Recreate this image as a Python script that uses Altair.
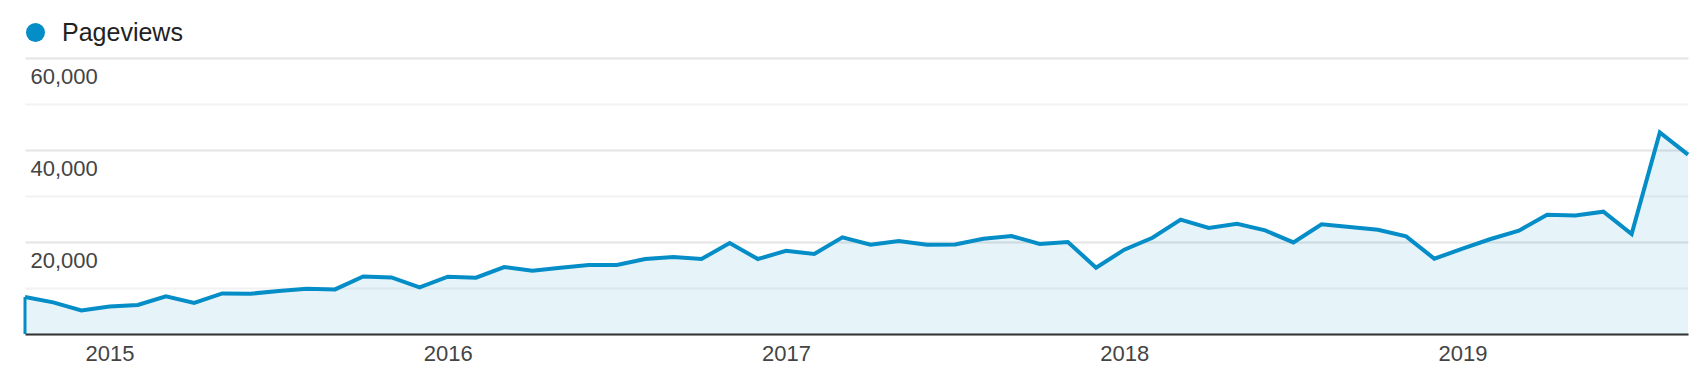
import altair as alt
import pandas as pd

months = list(pd.date_range("2014-10-01", periods=60, freq="MS").strftime("%Y-%m"))
pageviews = [
    8040, 6870, 5130, 6000, 6300, 8170, 6740, 8830, 8760, 9350, 9850, 9700,
    12520, 12300, 10150, 12450, 12240, 14560, 13760, 14410, 15000, 15000, 16300, 16740,
    16300, 19780, 16300, 18100, 17390, 21000, 19410, 20200, 19410, 19480, 20720, 21300,
    19560, 20000, 14410, 18330, 20930, 24850, 23040, 23980, 22520, 19910, 23830, 23260,
    22670, 21220, 16370, 18540, 20650, 22460, 25930, 25780, 26590, 21740, 43830, 38980,
]
series_name = "Pageviews"
year_ticks = ["2015-01", "2016-01", "2017-01", "2018-01", "2019-01"]
y_ticks = [0, 10000, 20000, 30000, 40000, 50000, 60000]

df = pd.DataFrame({"month": months, "pageviews": pageviews, "series": series_name})

BLUE = "#058dc7"
FONT = "Liberation Sans"

x_enc = alt.X(
    "month:O",
    sort=None,
    scale=alt.Scale(type="point", padding=0),
    axis=alt.Axis(
        title=None,
        values=year_ticks,
        labelExpr="substring(datum.value, 0, 4)",
        labelAngle=0,
        ticks=False,
        grid=False,
        domain=True,
        domainColor="#333333",
        domainWidth=2,
        labelFont=FONT,
        labelFontSize=22,
        labelColor="#444444",
        labelPadding=9,
    ),
)

y_enc = alt.Y(
    "pageviews:Q",
    scale=alt.Scale(domain=[0, 60000], nice=False),
    axis=alt.Axis(
        title=None,
        values=y_ticks,
        labelExpr="datum.value % 20000 == 0 && datum.value > 0 ? format(datum.value, ',') : ''",
        domain=False,
        ticks=False,
        tickSize=0,
        labelAlign="left",
        labelBaseline="alphabetic",
        labelPadding=-5,
        labelOffset=25,
        labelFont=FONT,
        labelFontSize=22,
        labelColor="#444444",
        grid=True,
        gridColor={"condition": {"test": "datum.value % 20000 == 0", "value": "#e4e4e4"}, "value": "#f2f2f2"},
        gridWidth=2,
    ),
)

base = alt.Chart(df)

area = base.mark_area(color=BLUE, opacity=0.1).encode(x=x_enc, y=y_enc)

line = base.mark_line(strokeWidth=4, strokeJoin="miter").encode(
    x=x_enc,
    y=y_enc,
    color=alt.Color(
        "series:N",
        scale=alt.Scale(domain=[series_name], range=[BLUE]),
        legend=alt.Legend(
            title=None,
            orient="none",
            legendX=-2,
            legendY=-38,
            symbolType="circle",
            symbolSize=361,
            symbolFillColor=BLUE,
            symbolStrokeWidth=0,
            symbolOpacity=1,
            labelFont=FONT,
            labelFontSize=25,
            labelColor="#222222",
            labelOffset=14,
            padding=0,
        ),
    ),
)

edge = base.transform_filter(alt.datum.month == months[0]).mark_rule(
    color=BLUE, strokeWidth=3
).encode(x=alt.X("month:O", sort=None), y="pageviews:Q", y2=alt.datum(0))

chart = (
    alt.layer(area, edge, line)
    .properties(
        width=1663,
        height=276,
        background="white",
        autosize=alt.AutoSizeParams(type="none"),
        padding={"left": 25, "top": 58, "right": 18, "bottom": 40},
    )
    .configure_view(stroke=None, strokeWidth=0)
)

chart.save("out.html", embed_options={"renderer": "svg", "actions": False})
